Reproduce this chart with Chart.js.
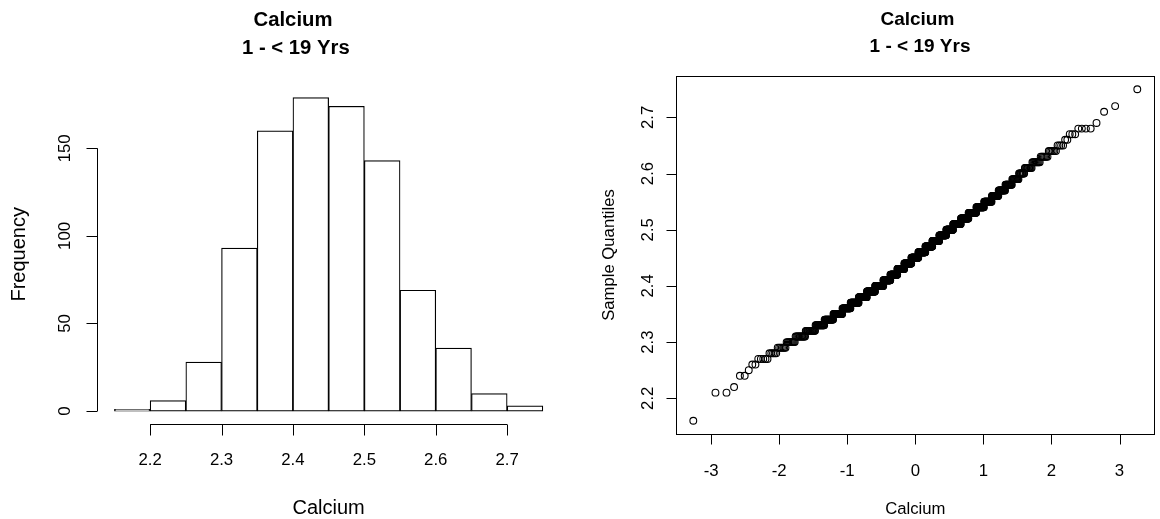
<!DOCTYPE html>
<html>
<head>
<meta charset="utf-8">
<script src="https://cdn.jsdelivr.net/npm/chart.js@4.4.1/dist/chart.umd.min.js"></script>
<style>
html, body { margin: 0; padding: 0; background: #fff; }
#wrap { position: relative; width: 1160px; height: 519px; }
.pane { position: absolute; top: 0; width: 580px; height: 519px; }
#left { left: 0; }
#right { left: 580px; }
</style>
</head>
<body>
<div id="wrap">
  <div class="pane" id="left"><canvas id="histChart" width="580" height="519"></canvas></div>
  <div class="pane" id="right"><canvas id="qqChart" width="580" height="519"></canvas></div>
</div>
<script>
// histogram: right-closed bins and their counts
const binBreaks = [2.15, 2.2, 2.25, 2.3, 2.35, 2.4, 2.45, 2.5, 2.55, 2.6, 2.65, 2.7, 2.75]
const binCounts = [1, 6, 28, 93, 160, 179, 174, 143, 69, 36, 10, 3]
const histXTicks = [2.2, 2.3, 2.4, 2.5, 2.6, 2.7]
const histYTicks = [0, 50, 100, 150]

const sampleValues = [2.16, 2.21, 2.22, 2.24, 2.25,
    2.26, 2.27, 2.28, 2.29, 2.30, 2.31, 2.32, 2.33, 2.34, 2.35,
    2.36, 2.37, 2.38, 2.39, 2.40, 2.41, 2.42, 2.43, 2.44, 2.45,
    2.46, 2.47, 2.48, 2.49, 2.50, 2.51, 2.52, 2.53, 2.54, 2.55,
    2.56, 2.57, 2.58, 2.59, 2.60, 2.61, 2.62, 2.63, 2.64, 2.65,
    2.66, 2.67, 2.68, 2.69, 2.71, 2.72, 2.75]
const sampleCounts = [1, 2, 1, 2, 1,
    2, 5, 5, 7, 9, 13, 16, 18, 21, 25,
    26, 29, 32, 35, 38, 34, 35, 36, 37, 37,
    37, 36, 35, 34, 32, 34, 31, 29, 26, 23,
    18, 16, 14, 12, 9, 10, 9, 7, 6, 4,
    2, 3, 4, 1, 1, 1, 1]
const qqXTicks = [-3, -2, -1, 0, 1, 2, 3]
const qqYTicks = [2.2, 2.3, 2.4, 2.5, 2.6, 2.7]

// inverse normal cdf (Acklam)
function qnorm(p) {
    const a = [-39.69683028665376, 220.9460984245205, -275.9285104469687, 138.3577518672690, -30.66479806614716, 2.506628277459239]
    const b = [-54.47609879822406, 161.5858368580409, -155.6989798598866, 66.80131188771972, -13.28068155211918]
    const c = [-0.007784894002430293, -0.3223964580411365, -2.400758277161838, -2.549732539343734, 4.374664141464968, 2.938163982698783]
    const d = [0.007784695709041462, 0.3224671290700398, 2.445134137142996, 3.754408661907416]
    const lo = 0.02425, hi = 1 - lo
    let q, r
    if (p < lo) {
        q = Math.sqrt(-2 * Math.log(p))
        return (((((c[0]*q+c[1])*q+c[2])*q+c[3])*q+c[4])*q+c[5]) / ((((d[0]*q+d[1])*q+d[2])*q+d[3])*q+1)
    }
    if (p > hi) {
        q = Math.sqrt(-2 * Math.log(1 - p))
        return -(((((c[0]*q+c[1])*q+c[2])*q+c[3])*q+c[4])*q+c[5]) / ((((d[0]*q+d[1])*q+d[2])*q+d[3])*q+1)
    }
    q = p - 0.5
    r = q * q
    return (((((a[0]*r+a[1])*r+a[2])*r+a[3])*r+a[4])*r+a[5])*q / (((((b[0]*r+b[1])*r+b[2])*r+b[3])*r+b[4])*r+1)
}

// qqnorm points: sorted sample vs normal quantile of its rank
const sorted = []
sampleValues.forEach((v, i) => { for (let k = 0; k < sampleCounts[i]; k++) sorted.push(v) })
const n = sorted.length
const qqPoints = sorted.map((v, i) => ({ x: qnorm((i + 1 - 0.5) / n), y: v }))

const FONT = "'Liberation Sans', Arial, Helvetica, sans-serif"

// base-R style axes, labels and title
const rAxes = {
    id: "rAxes",
    afterDraw(chart, args, o) {
        const ctx = chart.ctx
        const area = chart.chartArea
        const xs = chart.scales.x, ys = chart.scales.y
        ctx.save()
        ctx.strokeStyle = "#000"
        ctx.fillStyle = "#000"
        ctx.lineWidth = 1
        if (o.box) ctx.strokeRect(Math.round(area.left) + 0.5, Math.round(area.top) + 0.5, Math.round(area.right - area.left) - 1, Math.round(area.bottom - area.top))

        // x axis
        const yb = Math.round(area.bottom) + 0.5
        const x0 = xs.getPixelForValue(o.xTicks[0]), x1 = xs.getPixelForValue(o.xTicks[o.xTicks.length - 1])
        ctx.beginPath()
        ctx.moveTo(x0, yb); ctx.lineTo(x1, yb)
        o.xTicks.forEach(t => { const px = Math.round(xs.getPixelForValue(t)) + 0.5; ctx.moveTo(px, yb); ctx.lineTo(px, yb + o.tick) })
        ctx.stroke()
        ctx.font = o.tickFont + "px " + FONT
        ctx.textAlign = "center"
        ctx.textBaseline = "alphabetic"
        o.xTicks.forEach(t => ctx.fillText(String(t), xs.getPixelForValue(t), area.bottom + o.xLab))

        // y axis
        const xl = Math.round(area.left) + 0.5
        const y0 = ys.getPixelForValue(o.yTicks[0]), y1 = ys.getPixelForValue(o.yTicks[o.yTicks.length - 1])
        ctx.beginPath()
        ctx.moveTo(xl, y0); ctx.lineTo(xl, y1)
        o.yTicks.forEach(t => { const py = Math.round(ys.getPixelForValue(t)) + 0.5; ctx.moveTo(xl, py); ctx.lineTo(xl - o.tick, py) })
        ctx.stroke()
        o.yTicks.forEach(t => {
            ctx.save()
            ctx.translate(area.left - o.yLab, ys.getPixelForValue(t))
            ctx.rotate(-Math.PI / 2)
            ctx.fillText(String(t), 0, 0)
            ctx.restore()
        })

        // axis titles
        const cx = (area.left + area.right) / 2, cy = (area.top + area.bottom) / 2
        ctx.font = o.labFont + "px " + FONT
        ctx.fillText(o.xTitle, cx, area.bottom + o.xTitleOff)
        ctx.save()
        ctx.translate(area.left - o.yTitleOff, cy)
        ctx.rotate(-Math.PI / 2)
        ctx.fillText(o.yTitle, 0, 0)
        ctx.restore()

        // main title
        ctx.font = "bold " + o.mainFont + "px " + FONT
        o.main.forEach((line, i) => ctx.fillText(line, o.mainX, o.mainY[i]))
        ctx.restore()
    }
}

new Chart(document.getElementById("histChart"), {
    type: "bar",
    data: {
        datasets: [{
            data: binCounts.map((c, i) => ({ x: (binBreaks[i] + binBreaks[i + 1]) / 2, y: c })),
            backgroundColor: "#ffffff",
            borderColor: "#000000",
            borderWidth: 1.2,
            borderSkipped: false,
            barPercentage: 1,
            categoryPercentage: 1
        }]
    },
    options: {
        responsive: false,
        animation: false,
        events: [],
        layout: { padding: { left: 97.3, right: 20, top: 85, bottom: 95.4 } },
        plugins: {
            legend: { display: false },
            tooltip: { enabled: false },
            rAxes: {
                box: false, xTicks: histXTicks, yTicks: histYTicks, tick: 11,
                tickFont: 16.8, xLab: 41, yLab: 27.3,
                labFont: 20, xTitle: "Calcium", yTitle: "Frequency", xTitleOff: 90, yTitleOff: 72.8,
                mainFont: 20.3, main: ["Calcium", " 1 - < 19 Yrs"], mainX: 293, mainY: [26, 54]
            }
        },
        scales: {
            x: { type: "linear", min: 2.126, max: 2.774, offset: false, display: false },
            y: { min: -7.16, max: 186.16, display: false }
        }
    },
    plugins: [rAxes]
})

new Chart(document.getElementById("qqChart"), {
    type: "scatter",
    data: {
        datasets: [{
            data: qqPoints,
            pointStyle: "circle",
            pointRadius: 3.4,
            pointBorderWidth: 1.1,
            pointBorderColor: "#000000",
            pointBackgroundColor: "rgba(0,0,0,0)"
        }]
    },
    options: {
        responsive: false,
        animation: false,
        events: [],
        layout: { padding: { left: 95.7, right: 1, top: 76, bottom: 85 } },
        plugins: {
            legend: { display: false },
            tooltip: { enabled: false },
            rAxes: {
                box: true, xTicks: qqXTicks, yTicks: qqYTicks, tick: 10,
                tickFont: 16.8, xLab: 42, yLab: 23,
                labFont: 16.7, xTitle: "Calcium", yTitle: "Sample Quantiles", xTitleOff: 80, yTitleOff: 61.4,
                mainFont: 19, main: ["Calcium", " 1 - < 19 Yrs"], mainX: 337.4, mainY: [25, 52]
            }
        },
        scales: {
            x: { type: "linear", min: -3.52, max: 3.52, display: false },
            y: { min: 2.1364, max: 2.7736, display: false }
        }
    },
    plugins: [rAxes]
})
</script>
</body>
</html>
